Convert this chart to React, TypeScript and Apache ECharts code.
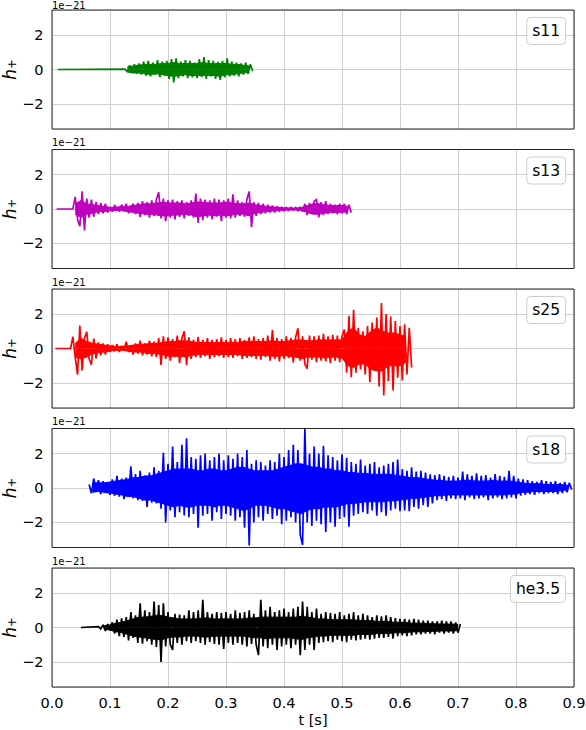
import React, { useEffect, useRef } from "react";
import * as echarts from "echarts";

// ---- data (strain in units of 1e-21) ----
const seriesNames = ["s11", "s13", "s25", "s18", "he3.5"];
const xTickLabels = ["0.0", "0.1", "0.2", "0.3", "0.4", "0.5", "0.6", "0.7", "0.8", "0.9"];
const yTickValues = [-2, 0, 2];
// time where each flat (zero) lead-in starts, and time of the first sample
const leadStart = [0.01, 0.008, 0.006, 0.064, 0.05];
const firstSample = [0.126, 0.036, 0.032, 0.064, 0.08];
const sampleStep = 0.004;
// dense "core" band of each waveform, read every 0.01 s
const coreStart = [0.13, 0.04, 0.04, 0.07, 0.09];
const coreStep = 0.01;

const s11 = [
  0.02, -0.15, 0.25, -0.2, 0.3, -0.25, 0.35, -0.3, 0.45, -0.35,
  0.5, -0.4, 0.4, -0.3, 0.55, -0.45, 0.45, -0.35, 0.5, -0.55,
  0.6, -0.75, 0.65, -0.5, 0.45, -0.4, 0.55, -0.5, 0.5, -0.45,
  0.4, -0.5, 0.6, -0.45, 0.72, -0.55, 0.55, -0.4, 0.5, -0.55,
  0.45, -0.6, 0.5, -0.45, 0.65, -0.4, 0.45, -0.35, 0.4, -0.4,
  0.35, -0.3, 0.4, -0.25, 0.3, -0.1,
];
const s11CoreUp = [0.15, 0.2, 0.25, 0.3, 0.3, 0.3, 0.35, 0.35, 0.4, 0.35, 0.35, 0.35, 0.35, 0.4, 0.35, 0.35, 0.35, 0.35, 0.3, 0.3, 0.25, 0.2];
const s11CoreDown = [-0.15, -0.2, -0.2, -0.25, -0.3, -0.25, -0.3, -0.35, -0.4, -0.35, -0.3, -0.35, -0.35, -0.35, -0.35, -0.35, -0.4, -0.3, -0.3, -0.25, -0.2, -0.15];

const s13 = [
  0.0,
  0.7, -0.6, -1.0, 1.02, -1.25, 0.6, -0.5, 0.55, -0.45,
  0.4, -0.3, 0.35, -0.25, 0.3, -0.2, 0.1, -0.15, 0.2, 0.05,
  -0.1, 0.25, -0.05, 0.3, -0.25, 0.1, 0.3, -0.3, 0.35, -0.45,
  0.45, -0.35, 0.4, -0.5, 0.5, -0.4, 0.55, 0.97, -0.55, 0.6,
  -0.7, 0.5, -0.5, 0.55, -0.6, 0.45, -0.45, 0.5, -0.55, 0.4,
  -0.4, 0.5, -0.5, 0.9, -0.8, 0.6, -0.65, 0.55, -0.5, 0.5,
  -0.6, 0.6, -0.45, 0.55, -0.7, 0.5, -0.5, 0.6, -0.55, 0.85,
  -0.5, 0.5, -0.4, 0.4, -0.45, 0.55, 1.02, -1.05, 0.4, -0.4,
  0.35, -0.3, 0.3, -0.25, 0.25, -0.2, 0.2, -0.2, 0.15, -0.15,
  0.12, -0.1, 0.08, -0.08, 0.1, -0.06, 0.08, -0.1, 0.12, -0.15,
  0.3, -0.35, 0.35, -0.3, 0.45, 0.55, -0.48, 0.4, -0.35, 0.45,
  -0.3, 0.3, -0.25, 0.25, -0.3, 0.3, -0.25, 0.3, -0.3, 0.25,
  -0.2,
];
const s13CoreUp = [
  0.3, 0.5, 0.3, 0.25, 0.2, 0.15, 0.1, 0.1, 0.15, 0.15,
  0.2, 0.25, 0.3, 0.3, 0.35, 0.4, 0.35, 0.35, 0.35, 0.3,
  0.35, 0.4, 0.4, 0.35, 0.35, 0.35, 0.4, 0.35, 0.3, 0.3,
  0.35, 0.25, 0.2, 0.15, 0.12, 0.1, 0.07, 0.06, 0.06, 0.08,
  0.2, 0.3, 0.3, 0.25, 0.2, 0.2, 0.2, 0.15,
];
const s13CoreDown = [
  -0.3, -0.5, -0.3, -0.25, -0.15, -0.15, -0.1, -0.08, -0.1, -0.15,
  -0.2, -0.25, -0.3, -0.3, -0.35, -0.4, -0.4, -0.35, -0.35, -0.3,
  -0.35, -0.45, -0.4, -0.35, -0.4, -0.35, -0.4, -0.35, -0.3, -0.3,
  -0.4, -0.25, -0.2, -0.15, -0.12, -0.1, -0.07, -0.06, -0.06, -0.08,
  -0.2, -0.3, -0.3, -0.25, -0.2, -0.2, -0.2, -0.15,
];

const s25 = [
  0.0, 0.68, -0.5, -1.52, 1.33, -1.27, 0.6, 0.97, -0.6, -0.94,
  0.58, -0.58, 0.35, -0.4, 0.3, -0.35, 0.25, -0.2, 0.2, -0.15,
  0.25, -0.2, 0.15, -0.1, 0.39, -0.2, 0.1, -0.35, 0.3, -0.3,
  0.45, -0.4, 0.3, -0.35, 0.45, -0.45, 0.4, -0.5, 0.6, -0.95,
  0.7, -0.6, 0.65, -0.7, 0.55, -0.5, 0.75, -0.85, 0.6, 1.0,
  -0.95, 0.65, -0.6, 0.5, -0.5, 0.68, -0.55, 0.5, -0.45, 0.6,
  -0.6, 0.5, -0.5, 0.55, -0.45, 0.65, -0.55, 0.5, -0.5, 0.6,
  -0.55, 0.55, -0.45, 0.6, -0.6, 0.5, -0.55, 0.65, -0.5, 0.7,
  -0.6, 0.55, -0.65, 0.6, -0.5, 0.75, -0.7, 1.07, -0.6, 0.6,
  -0.75, 0.55, -0.6, 0.7, -0.55, 0.6, -0.8, 0.65, 1.17, -0.7,
  0.7, -0.9, -1.17, 0.75, -0.65, 0.7, -0.8, 0.75, -0.7, 0.85,
  -0.75, 0.7, -0.85, 0.8, -0.7, 0.75, -0.8, 0.7, 1.1, -1.4,
  1.9, -1.66, 2.24, -1.4, 1.2, -1.2, 1.0, -1.5, 1.3, -1.95,
  1.5, -1.3, 1.8, -2.2, 2.63, -2.73, 2.0, -1.9, 1.85, -2.44,
  1.6, -1.7, 1.3, -1.85, 1.4, -1.5, 1.2, -1.1,
];
const s25CoreUp = [
  0.3, 0.6, 0.4, 0.3, 0.25, 0.2, 0.15,
  0.12, 0.12, 0.15, 0.2, 0.25, 0.25, 0.3, 0.3, 0.35, 0.4,
  0.4, 0.45, 0.45, 0.4, 0.35, 0.35, 0.35, 0.35, 0.35, 0.35,
  0.35, 0.35, 0.4, 0.4, 0.4, 0.4, 0.4, 0.45, 0.4, 0.4,
  0.45, 0.5, 0.5, 0.45, 0.45, 0.5, 0.5, 0.5, 0.5, 0.5,
  1.0, 1.2, 0.8, 0.7, 1.0, 1.2, 1.0, 0.9, 0.9, 0.8, 0.7,
];
const s25CoreDown = [
  -0.5, -0.6, -0.5, -0.3, -0.25, -0.2, -0.15,
  -0.12, -0.1, -0.15, -0.2, -0.2, -0.25, -0.3, -0.3, -0.35, -0.45,
  -0.45, -0.45, -0.5, -0.4, -0.35, -0.35, -0.35, -0.35, -0.35, -0.35,
  -0.35, -0.35, -0.4, -0.4, -0.4, -0.4, -0.4, -0.45, -0.45, -0.4,
  -0.45, -0.5, -0.6, -0.5, -0.5, -0.5, -0.55, -0.5, -0.5, -0.55,
  -1.0, -1.1, -0.9, -0.9, -1.2, -1.3, -1.3, -1.0, -1.0, -1.0, -0.8,
];

const s18 = [
  0.2, -0.3, 0.55, -0.2, 0.45, -0.35, 0.4, -0.3, 0.3, -0.4,
  0.5, -0.45, 0.7, -0.5, 0.55, -0.65, 0.6, -0.45, 1.25, -0.6,
  0.8, -0.7, 1.0, -0.75, 0.7, -1.1, 0.9, -0.85, 1.2, -0.9,
  1.0, -1.2, 2.04, -2.0, 1.4, -1.3, 2.4, -1.7, 1.5, -1.4,
  2.5, -1.6, 2.88, -1.7, 1.8, -1.5, 1.7, -2.3, 1.9, -1.6,
  2.0, -1.5, 1.6, -1.9, 1.8, -1.4, 2.0, -1.8, 1.6, -1.5,
  1.9, -1.6, 1.7, -1.9, 2.0, -1.7, 1.8, -2.3, 2.2, -3.33,
  1.4, -2.0, 1.6, -1.7, 1.5, -1.9, 1.3, -1.5, 1.6, -1.8,
  1.5, -1.6, 2.0, -2.1, 1.8, -1.9, 2.2, -1.7, 2.5, -2.0,
  2.2, -2.7, -3.3, 3.45, -2.0, 2.0, -2.2, 2.4, -1.9, 2.0,
  -2.1, 2.45, -2.55, 1.9, -2.0, 1.8, -2.25, 1.6, -1.8, 1.95,
  -1.7, 1.75, -2.25, 1.5, -1.6, 1.4, -1.5, 1.65, -1.4, 1.3,
  -1.5, 1.4, -1.3, 1.5, -1.6, 1.2, -1.4, 1.3, -1.6, 1.4,
  -1.3, 1.5, -1.2, 1.65, -1.35, 1.1, -1.3, 1.0, -1.35, 1.2,
  -1.1, 0.95, -1.2, 1.0, -1.0, 0.9, -1.1, 0.8, -0.9, 0.75,
  -0.7, 0.8, -0.65, 0.7, -0.75, 0.65, -0.6, 0.7, -0.65, 0.6,
  -0.6, 0.95, -0.7, 0.8, -0.55, 0.7, -0.65, 0.85, -0.6, 0.7,
  -0.55, 0.75, -0.7, 0.6, -0.6, 0.8, -0.55, 0.7, -0.65, 0.65,
  -0.6, 1.0, -0.55, 0.7, -0.6, 0.55, -0.45, 0.5, -0.4, 0.45,
  -0.35, 0.4, -0.4, 0.35, -0.3, 0.45, -0.35, 0.4, -0.3, 0.35,
  -0.3, 0.4, -0.35, 0.3, -0.3, 0.35, -0.25, 0.3, -0.1,
];
const s18CoreUp = [
  0.3, 0.3, 0.3, 0.35,
  0.4, 0.45, 0.5, 0.6, 0.6, 0.7, 0.7, 0.8, 0.9, 1.0,
  1.1, 1.1, 1.1, 1.1, 1.0, 1.0, 1.1, 1.1, 1.0, 1.0,
  1.1, 1.2, 1.2, 1.1, 1.0, 1.0, 1.0, 1.0, 1.1, 1.2,
  1.3, 1.4, 1.4, 1.3, 1.2, 1.2, 1.1, 1.1, 1.0, 1.0,
  0.9, 0.9, 0.85, 0.85, 0.8, 0.8, 0.8, 0.8, 0.75, 0.7,
  0.65, 0.6, 0.6, 0.55, 0.5, 0.45, 0.45, 0.4, 0.4, 0.4,
  0.45, 0.45, 0.4, 0.4, 0.4, 0.45, 0.4, 0.4, 0.4, 0.35,
  0.3, 0.25, 0.25, 0.25, 0.2, 0.2, 0.2, 0.2, 0.15,
];
const s18CoreDown = [
  -0.25, -0.2, -0.25, -0.3,
  -0.35, -0.4, -0.5, -0.5, -0.6, -0.7, -0.7, -0.8, -0.9, -1.0,
  -1.1, -1.0, -1.1, -1.1, -1.0, -1.0, -1.0, -1.1, -1.0, -1.0,
  -1.1, -1.2, -1.3, -1.2, -1.0, -1.0, -1.0, -1.1, -1.2, -1.2,
  -1.3, -1.4, -1.5, -1.3, -1.2, -1.2, -1.1, -1.1, -1.1, -1.0,
  -0.9, -0.9, -0.85, -0.8, -0.8, -0.8, -0.8, -0.75, -0.75, -0.7,
  -0.65, -0.6, -0.6, -0.55, -0.5, -0.45, -0.45, -0.4, -0.4, -0.4,
  -0.4, -0.4, -0.4, -0.4, -0.4, -0.4, -0.4, -0.4, -0.35, -0.35,
  -0.25, -0.25, -0.2, -0.2, -0.2, -0.2, -0.2, -0.15, -0.1,
];

const he35 = [
  0.05, -0.08, 0.15, -0.2, 0.2, -0.15, 0.3, -0.35, 0.45, -0.5,
  0.53, -0.55, 0.6, -0.75, 0.9, -0.6, 0.7, -0.9, 1.4, -0.94,
  1.0, -0.8, 0.9, -1.0, 1.5, -1.13, 1.3, -2.0, 1.4, -1.1,
  0.9, -1.0, -1.3, 0.8, -0.9, 0.75, -1.0, 0.7, -0.8, 1.0,
  -0.9, 0.9, -0.8, 1.0, -0.9, 1.6, -1.0, 0.9, -0.85, 0.8,
  -0.95, 0.9, -1.0, 0.85, -1.25, 0.9, -0.9, 0.8, -1.0, 1.0,
  -0.9, 0.85, -1.0, 0.9, -1.1, 1.0, -0.95, 0.8, -1.0, -1.6,
  1.6, -1.1, 1.0, -1.2, 1.2, -1.0, 0.9, -1.3, 1.0, -1.1,
  1.1, -1.0, 0.9, -1.2, 1.1, -1.0, 1.2, -1.6, 1.5, -1.3,
  1.2, -1.0, 0.9, -1.3, 1.1, -0.9, 0.8, -0.85, 0.9, -0.8,
  0.85, -0.85, 0.8, -0.7, 0.9, -0.8, 0.7, -0.85, 0.8, -0.7,
  0.9, -0.75, 0.7, -0.7, 0.8, -0.65, 0.7, -0.7, 0.6, -0.65,
  0.7, -0.6, 0.65, -0.6, 0.7, -0.55, 0.6, -0.65, 0.55, -0.5,
  0.5, -0.45, 0.5, -0.5, 0.45, -0.45, 0.5, -0.4, 0.45, -0.4,
  0.4, -0.35, 0.4, -0.35, 0.35, -0.4, 0.35, -0.3, 0.4, -0.35,
  0.35, -0.3, 0.35, -0.35, 0.3, -0.3, 0.2,
];
const he35CoreUp = [
  0.1, 0.15,
  0.25, 0.3, 0.4, 0.5, 0.6, 0.6, 0.65, 0.7, 0.7, 0.6,
  0.55, 0.5, 0.5, 0.5, 0.5, 0.55, 0.55, 0.5, 0.5, 0.5,
  0.5, 0.5, 0.5, 0.55, 0.55, 0.6, 0.6, 0.6, 0.6, 0.6,
  0.6, 0.6, 0.65, 0.6, 0.55, 0.5, 0.5, 0.45, 0.45, 0.45,
  0.45, 0.45, 0.4, 0.4, 0.4, 0.35, 0.35, 0.35, 0.3, 0.3,
  0.3, 0.25, 0.25, 0.25, 0.22, 0.22, 0.2, 0.2, 0.2, 0.18,
];
const he35CoreDown = [
  -0.1, -0.15,
  -0.25, -0.3, -0.4, -0.5, -0.55, -0.6, -0.65, -0.7, -0.7, -0.6,
  -0.55, -0.55, -0.5, -0.5, -0.5, -0.55, -0.55, -0.5, -0.5, -0.5,
  -0.5, -0.5, -0.5, -0.55, -0.6, -0.6, -0.65, -0.6, -0.6, -0.6,
  -0.6, -0.65, -0.7, -0.6, -0.55, -0.5, -0.5, -0.45, -0.45, -0.45,
  -0.45, -0.45, -0.4, -0.4, -0.4, -0.35, -0.35, -0.35, -0.3, -0.3,
  -0.3, -0.25, -0.25, -0.25, -0.22, -0.22, -0.2, -0.2, -0.2, -0.18,
];

const allValues = [s11, s13, s25, s18, he35];
const allCoreUp = [s11CoreUp, s13CoreUp, s25CoreUp, s18CoreUp, he35CoreUp];
const allCoreDown = [s11CoreDown, s13CoreDown, s25CoreDown, s18CoreDown, he35CoreDown];

// ---- styling / layout ----
const colors = ["#008000", "#bf00bf", "#ff0000", "#0000ff", "#000000"];
const PANEL_TOPS = [10, 149.5, 289, 428.5, 568];
const PANEL_H = 119;
const PANEL_L = 52;
const PANEL_W = 522;
const FONT = "DejaVu Sans";
const GRID_COLOR = "#cfcfcf";

function buildData(i: number) {
  const vals = allValues[i];
  const pts: number[][] = [[leadStart[i], 0]];
  vals.forEach((v, k) => {
    const t = +(firstSample[i] + k * sampleStep).toFixed(4);
    if (t > leadStart[i]) pts.push([t, v]);
    else pts[0] = [t, v];
  });
  return pts;
}

function buildCore(arr: number[], i: number) {
  return arr.map((v, k) => [+(coreStart[i] + k * coreStep).toFixed(4), v]);
}

export default function App() {
  const ref = useRef<HTMLDivElement>(null);
  useEffect(() => {
    if (!ref.current) return;
    const chart = echarts.init(ref.current, null, { renderer: "svg" });
    const n = seriesNames.length;
    const coreSeries: any[] = [];
    seriesNames.forEach((name, i) => {
      [allCoreUp[i], allCoreDown[i]].forEach((arr, j) => {
        coreSeries.push({
          name: name + (j ? " core-" : " core+"),
          type: "line",
          xAxisIndex: i,
          yAxisIndex: i,
          data: buildCore(arr, i),
          showSymbol: false,
          symbol: "none",
          silent: true,
          clip: true,
          lineStyle: { color: colors[i], width: 1 },
          areaStyle: { color: colors[i], opacity: 1 },
          z: 2,
        });
      });
    });
    const option: any = {
      animation: false,
      textStyle: { fontFamily: FONT },
      grid: PANEL_TOPS.map((top) => ({
        left: PANEL_L,
        top,
        width: PANEL_W,
        height: PANEL_H,
        show: false,
        containLabel: false,
        outerBoundsMode: "none",
      })),
      xAxis: PANEL_TOPS.map((_, i) => ({
        type: "value",
        gridIndex: i,
        min: 0,
        max: 0.9,
        interval: 0.1,
        axisLine: { show: false },
        axisTick: { show: false },
        axisLabel: {
          show: i === n - 1,
          formatter: (v: number) => xTickLabels[Math.round(v * 10)] ?? v.toFixed(1),
          fontSize: 14.5,
          color: "#000",
          margin: 8,
          fontFamily: FONT,
          showMinLabel: true,
          showMaxLabel: true,
        },
        splitLine: { show: true, lineStyle: { color: GRID_COLOR, width: 1 } },
        name: i === n - 1 ? "t [s]" : "",
        nameLocation: "middle",
        nameGap: 25,
        nameMoveOverlap: false,
        nameTextStyle: { fontSize: 14.5, color: "#000", fontFamily: FONT },
      })),
      yAxis: PANEL_TOPS.map((_, i) => ({
        type: "value",
        gridIndex: i,
        min: -3.45,
        max: 3.45,
        splitNumber: 3,
        axisLine: { show: false },
        axisTick: { show: false },
        axisLabel: {
          showMinLabel: false,
          showMaxLabel: false,
          formatter: (v: number) =>
            yTickValues.includes(v) ? (v < 0 ? "\u2212" + Math.abs(v) : String(v)) : "",
          fontSize: 14.5,
          color: "#000",
          margin: 8.5,
          fontFamily: FONT,
        },
        splitLine: { show: true, lineStyle: { color: GRID_COLOR, width: 1 } },
        name: "{h|h}{s|+}",
        nameLocation: "middle",
        nameGap: 34,
        nameRotate: 90,
        nameMoveOverlap: false,
        nameTextStyle: {
          color: "#000",
          fontFamily: FONT,
          rich: {
            h: { fontSize: 17, fontStyle: "italic", fontFamily: FONT, color: "#000" },
            s: { fontSize: 11.5, fontFamily: FONT, color: "#000", verticalAlign: "bottom" },
          },
        },
      })),
      title: seriesNames.map((name, i) => ({
        text: name,
        right: 20,
        top: PANEL_TOPS[i] + 7,
        padding: [6, 6, 6, 6],
        borderColor: "#cccccc",
        borderWidth: 1,
        borderRadius: 4,
        backgroundColor: "rgba(255,255,255,0.85)",
        textStyle: { fontSize: 15.5, fontWeight: "normal", color: "#000", fontFamily: FONT },
      })),
      graphic: [
        ...PANEL_TOPS.map((top) => ({
          type: "rect",
          z: 100,
          silent: true,
          shape: { x: PANEL_L, y: top, width: PANEL_W, height: PANEL_H },
          style: { fill: "none", stroke: "#262626", lineWidth: 1 },
        })),
        ...PANEL_TOPS.map((top) => ({
          type: "text",
          z: 100,
          silent: true,
          x: PANEL_L,
          y: Math.max(top - 12, 0),
          style: { text: "1e\u221221", fontSize: 10, fill: "#000", fontFamily: FONT },
        })),
      ],
      series: [
        ...coreSeries,
        ...seriesNames.map((name, i) => ({
          name,
          type: "line",
          xAxisIndex: i,
          yAxisIndex: i,
          data: buildData(i),
          showSymbol: false,
          symbol: "none",
          silent: true,
          clip: true,
          lineStyle: { color: colors[i], width: 1.7, join: "miter", miterLimit: 2 },
          itemStyle: { color: colors[i] },
          z: 3,
        })),
      ],
    };
    chart.setOption(option);
    return () => chart.dispose();
  }, []);
  return (
    <div
      ref={ref}
      style={{ position: "absolute", left: 0, top: 0, width: 586, height: 730 }}
    />
  );
}
